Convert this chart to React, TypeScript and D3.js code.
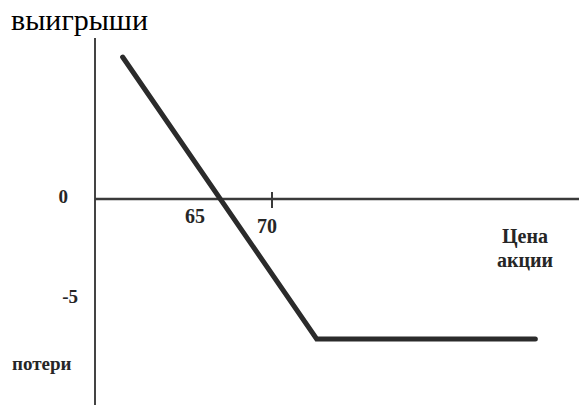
import React from "react";
import * as d3 from "d3";

const yAxisTitle = "выигрыши";
const yLossLabel = "потери";
const xAxisTitle = ["Цена", "акции"];
const xTickLabels = [65, 70];
const xTickMarks = [70];
const yTickLabels = [0, -5];
const stockPrice = [60.3, 72.9, 87.1];
const payoff = [7.17, -7.07, -7.07];

const W = 579;
const H = 405;

export default function App() {
  const x = d3.scaleLinear().domain([65, 70]).range([195, 272]);
  const y = d3.scaleLinear().domain([0, -5]).range([199, 298]);
  const axisX = 95;
  const axisY = y(0);
  const pts = stockPrice.map((p, i) => [p, payoff[i]] as [number, number]);
  const line = d3
    .line<[number, number]>()
    .x((d) => x(d[0]))
    .y((d) => y(d[1]));
  const labelColor = "#262626";
  const labelFont = "'Liberation Serif', 'DejaVu Serif', serif";

  return (
    <svg
      width={W}
      height={H}
      style={{ position: "absolute", left: 0, top: 0, background: "#fff" }}
    >
      <rect x={0} y={0} width={W} height={H} fill="#fff" />
      {/* axes */}
      <line x1={axisX} x2={axisX} y1={38} y2={H} stroke="#444" strokeWidth={2} />
      <line x1={axisX} x2={W} y1={axisY} y2={axisY} stroke="#3a3a3a" strokeWidth={2.5} />
      {xTickMarks.map((t) => (
        <line key={t} x1={x(t)} x2={x(t)} y1={axisY - 7} y2={axisY + 9} stroke="#3a3a3a" strokeWidth={2} />
      ))}
      {/* payoff line */}
      <path d={line(pts) || ""} fill="none" stroke="#2b2b2b" strokeWidth={5} strokeLinejoin="miter" strokeLinecap="round" />
      {/* tick labels */}
      {xTickLabels.map((t, i) => (
        <text
          key={t}
          x={x(t) - (i === 1 ? 5 : 0)}
          y={axisY + (i === 0 ? 24 : 34)}
          textAnchor="middle"
          fontFamily={labelFont}
          fontSize={20}
          fontWeight="bold"
          fill={labelColor}
        >
          {t}
        </text>
      ))}
      {yTickLabels.map((t) => (
        <text
          key={t}
          x={t === 0 ? 68 : 78}
          y={y(t) + (t === 0 ? 4 : 5)}
          textAnchor="end"
          fontFamily={labelFont}
          fontSize={19}
          fontWeight="bold"
          fill={labelColor}
        >
          {t}
        </text>
      ))}
      {/* titles */}
      <text x={11} y={30} fontFamily={labelFont} fontSize={30} fill="#000">
        {yAxisTitle}
      </text>
      <text x={12} y={370} fontFamily={labelFont} fontSize={19} fontWeight="bold" fill={labelColor}>
        {yLossLabel}
      </text>
      {xAxisTitle.map((s, i) => (
        <text
          key={s}
          x={525}
          y={243 + i * 24}
          textAnchor="middle"
          fontFamily={labelFont}
          fontSize={20}
          fontWeight="bold"
          fill={labelColor}
        >
          {s}
        </text>
      ))}
    </svg>
  );
}
